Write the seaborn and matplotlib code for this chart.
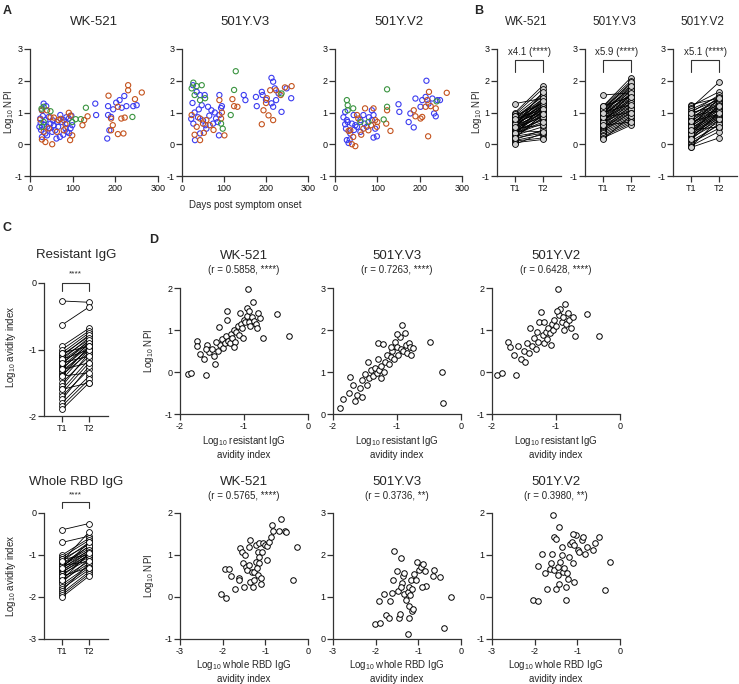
import numpy as np
import pandas as pd
import seaborn as sns
import matplotlib.pyplot as plt

sns.set_style('ticks')
plt.rcParams['font.family'] = ['Liberation Sans', 'DejaVu Sans']
plt.rcParams['mathtext.fontset'] = 'custom'
plt.rcParams['mathtext.rm'] = 'Liberation Sans'
plt.rcParams['axes.unicode_minus'] = False

# ---------------- data ----------------
cohort_colors = {'c1': '#3c3cf0', 'c2': '#c4531e', 'c3': '#3a9440'}

# panel A: (days post symptom onset, log10 NPI)
a_wk_c1 = [(22,0.55),(24,0.81),(25,0.67),(28,1.07),(28,0.23),(30,0.89),(32,1.28),(36,0.76),(36,0.34),
           (38,1.2),(40,0.55),(40,0.28),(44,0.86),(48,0.65),(52,0.39),(56,0.6),(59,0.44),(63,0.7),
           (70,0.23),(71,0.92),(75,0.7),(79,0.76),(83,0.5),(87,0.65),(87,0.39),(91,0.81),(95,0.5),
           (97,0.9),(99,0.6),(26,0.45),(33,0.62),(46,0.5),(54,0.75),(66,0.55),(85,0.85),(92,0.35),
           (155,0.92),(153,1.28),(181,0.18),(186,0.44),(183,0.92),(183,1.2),(190,0.86),(202,1.31),
           (210,1.39),(221,1.52),(226,1.2),(242,1.2),(250,1.23),(195,1.1),(215,1.15),(62,0.18),(78,0.3)]
a_wk_c2 = [(28,0.15),(36,0.07),(52,0.0),(32,0.39),(44,0.5),(56,0.84),(67,0.76),(40,1.07),(28,1.07),
           (63,0.39),(83,0.63),(79,0.44),(91,0.99),(95,0.9),(99,0.28),(94,0.13),(123,0.6),(127,0.76),
           (135,0.88),(230,1.86),(230,1.7),(262,1.63),(184,1.53),(206,1.18),(246,1.42),(222,0.84),
           (214,0.81),(190,0.81),(194,0.6),(190,0.44),(206,0.32),(219,0.34),(48,0.85),(72,0.8),(24,0.78)]
a_wk_c3 = [(48,1.04),(32,1.18),(107,0.79),(119,0.79),(131,1.15),(240,0.86),(99,0.7),(28,0.55),
           (32,0.7),(27,1.12)]

a_v3_c1 = [(26,1.86),(35,1.65),(43,1.55),(54,1.55),(47,1.23),(62,1.18),(70,1.07),(89,1.55),(93,1.14),
           (89,0.92),(27,0.65),(31,0.13),(43,0.34),(74,0.65),(58,0.49),(81,0.81),(88,0.28),(147,1.55),
           (151,1.39),(176,1.49),(190,1.65),(192,1.55),(178,1.2),(213,2.09),(217,1.97),(221,1.76),
           (224,1.39),(217,1.18),(249,1.76),(237,1.02),(213,1.29),(25,1.3),(30,1.0),(38,0.85),(50,0.75),
           (65,0.9),(78,1.0),(95,1.2),(22,0.8),(40,1.1),(56,0.6),(85,0.7),(200,1.4),(230,1.6),(260,1.45)]
a_v3_c2 = [(23,0.92),(43,0.81),(50,0.65),(58,0.76),(66,0.6),(43,0.13),(52,0.36),(89,1.39),(93,0.81),
           (101,0.28),(120,1.42),(124,1.2),(132,1.18),(202,1.45),(224,1.7),(210,1.7),(245,1.79),
           (261,1.83),(194,1.07),(206,0.91),(190,0.63),(217,0.76),(35,0.55),(75,0.45),(95,1.0),(30,0.3),
           (200,1.3),(235,1.55)]
a_v3_c3 = [(27,1.94),(35,1.83),(47,1.86),(23,1.76),(43,1.39),(93,0.65),(97,0.49),(128,2.3),(124,1.71),
           (116,0.92),(237,1.6),(30,1.55),(55,1.45)]

a_v2_c1 = [(24,1.02),(28,0.76),(60,0.76),(40,0.65),(48,0.6),(28,0.13),(32,0.04),(36,0.34),(60,0.39),
           (75,0.55),(87,0.76),(91,0.92),(87,1.07),(95,0.49),(91,0.21),(99,0.25),(67,0.92),(44,0.92),
           (24,0.63),(26,0.49),(52,0.55),(150,1.26),(152,1.02),(174,0.7),(186,0.53),(178,0.97),
           (190,1.44),(202,1.18),(206,1.39),(214,1.49),(216,2.0),(221,1.28),(230,1.44),(234,0.97),
           (242,1.39),(248,1.39),(238,0.88),(30,0.7),(45,0.45),(70,0.65),(80,0.85),(20,0.85),(35,0.15)]
a_v2_c2 = [(55,0.81),(71,1.13),(36,0.44),(43,0.23),(40,0.0),(48,-0.06),(67,0.49),(91,1.13),(95,0.76),
           (99,0.55),(100,0.7),(52,0.92),(79,0.44),(32,0.42),(123,1.07),(121,0.65),(131,0.42),(186,1.07),
           (190,0.88),(222,1.65),(218,1.39),(206,0.86),(202,0.81),(220,0.25),(226,1.2),(238,1.13),
           (264,1.62),(214,1.18),(62,0.3),(85,0.6)]
a_v2_c3 = [(28,1.39),(30,1.23),(30,1.07),(43,1.13),(79,0.7),(123,1.73),(123,1.18),(115,0.78),
           (240,1.35),(60,0.7)]

# panel B: paired log10 NPI at T1 / T2
b_wk_t1 = [1.28,1.0,0.95,0.9,0.85,0.82,0.8,0.78,0.75,0.73,0.7,0.68,0.66,0.64,0.62,0.6,0.58,0.56,0.55,
           0.53,0.5,0.48,0.46,0.45,0.43,0.4,0.38,0.35,0.33,0.3,0.28,0.25,0.22,0.2,0.15,0.12,0.1,0.05,
           0.0,0.3,0.6,0.42,0.9,0.7,0.5,0.65,0.35,0.8,0.55,0.2]
b_wk_t2 = [1.45,1.85,1.75,1.6,1.5,1.42,1.3,1.55,1.2,1.35,1.15,1.25,1.05,1.4,1.1,0.95,1.2,1.0,0.85,
           1.3,1.1,0.9,1.0,0.75,1.15,0.95,0.8,1.05,0.65,0.9,0.55,0.4,0.85,0.35,0.45,0.3,0.2,0.15,
           0.35,1.25,1.65,0.4,1.3,1.0,0.6,1.45,0.7,1.1,1.35,0.95]
b_v3_t1 = [1.55,1.2,1.18,1.15,1.12,1.1,1.08,1.05,1.02,1.0,0.98,0.95,0.92,0.9,0.88,0.85,0.82,0.8,0.78,
           0.75,0.72,0.7,0.68,0.65,0.62,0.6,0.58,0.55,0.52,0.5,0.48,0.45,0.42,0.4,0.35,0.3,0.25,0.2,
           0.15,1.1,0.95,0.7,1.2,0.85,0.6,1.0]
b_v3_t2 = [1.62,2.1,2.0,1.9,1.85,1.75,1.7,1.65,1.55,1.8,1.5,1.45,1.6,1.4,1.35,1.7,1.3,1.25,1.55,
           1.2,1.45,1.15,1.1,1.4,1.05,1.3,1.0,0.95,1.2,0.9,1.1,0.85,1.0,0.8,0.75,0.7,0.65,0.6,
           0.9,1.95,1.85,1.6,1.5,1.0,0.7,1.25]
b_v2_t1 = [1.25,1.2,1.15,1.1,1.05,1.0,0.95,0.9,0.85,0.8,0.78,0.75,0.7,0.68,0.65,0.62,0.6,0.55,0.52,
           0.5,0.48,0.45,0.42,0.4,0.38,0.35,0.3,0.28,0.25,0.2,0.15,0.1,0.05,0.0,-0.05,-0.1,-0.08,
           0.58,0.9,0.33,0.72,0.18,1.0,0.45]
b_v2_t2 = [1.45,1.65,1.95,1.5,1.4,1.55,1.35,1.45,1.3,1.25,1.5,1.2,1.4,1.15,1.1,1.3,1.05,1.2,1.0,
           0.95,1.15,0.9,1.1,0.85,1.0,0.8,0.95,0.75,0.9,0.7,0.85,0.6,0.5,0.65,0.4,0.2,0.8,
           1.45,1.05,1.25,0.95,1.0,1.2,0.55]
fold_labels = ['x4.1 (****)', 'x5.9 (****)', 'x5.1 (****)']

# panel C: paired log10 avidity index
c_res_t1 = [-0.27,-0.63,-0.95,-1.0,-1.05,-1.08,-1.1,-1.12,-1.15,-1.17,-1.2,-1.22,-1.25,-1.28,-1.3,
            -1.32,-1.35,-1.38,-1.4,-1.45,-1.5,-1.55,-1.6,-1.65,-1.7,-1.75,-1.8,-1.85,-1.9,-1.15,-1.05,
            -1.2,-1.3,-1.4,-1.6]
c_res_t2 = [-0.29,-0.36,-0.68,-0.72,-0.75,-0.8,-0.78,-0.85,-0.82,-0.88,-0.9,-0.86,-0.92,-0.95,-0.9,
            -1.0,-0.98,-1.05,-0.95,-1.0,-1.1,-1.05,-1.15,-1.2,-1.3,-1.25,-1.4,-1.45,-1.5,-1.0,-0.95,
            -1.1,-1.2,-1.35,-1.5]
c_rbd_t1 = [-0.4,-0.7,-1.0,-1.05,-1.1,-1.15,-1.2,-1.22,-1.25,-1.28,-1.3,-1.32,-1.35,-1.38,-1.4,-1.42,
            -1.45,-1.5,-1.55,-1.6,-1.65,-1.7,-1.75,-1.8,-1.85,-1.9,-1.95,-2.0,-1.1,-1.25,-1.5,-1.3,
            -1.6,-1.15]
c_rbd_t2 = [-0.25,-0.55,-0.6,-0.65,-0.75,-0.7,-0.8,-0.85,-0.9,-0.78,-0.95,-0.88,-1.0,-0.92,-1.05,-0.98,
            -1.1,-1.0,-1.15,-1.2,-1.1,-1.25,-1.3,-1.35,-1.2,-1.4,-1.45,-1.5,-1.0,-1.15,-1.3,-0.7,
            -0.95,-0.45]

# panel D: (log10 avidity index, log10 NPI)
d_res_wk = [(-1.88,-0.05),(-1.83,-0.02),(-1.59,-0.08),(-1.73,0.74),(-1.73,0.62),(-1.58,0.64),
            (-1.37,0.64),(-1.39,1.07),(-1.27,1.24),(-1.27,1.45),(-1.06,1.4),(-0.94,1.98),(-0.86,1.67),
            (-0.95,1.52),(-0.75,1.29),(-0.48,1.38),(-0.3,0.86),(-0.7,0.81),(-1.68,0.42),(-1.62,0.3),
            (-1.55,0.48),(-1.5,0.55),(-1.47,0.38),(-1.44,0.72),(-1.4,0.5),(-1.35,0.78),(-1.33,0.58),
            (-1.3,0.7),(-1.28,0.85),(-1.25,0.75),(-1.22,0.68),(-1.2,0.9),(-1.18,0.8),(-1.16,1.0),
            (-1.14,0.72),(-1.12,0.95),(-1.1,1.1),(-1.08,0.88),(-1.05,1.15),(-1.03,1.05),(-1.0,1.25),
            (-0.98,1.2),(-0.96,1.33),(-0.92,1.18),(-0.9,1.1),(-0.88,1.3),(-0.85,1.22),(-0.82,1.15),
            (-0.8,1.05),(-0.78,1.4),(-0.92,1.45),(-1.02,0.8),(-1.15,0.6),(-1.45,0.2),(-1.6,0.55)]
d_res_v3 = [(-1.89,0.14),(-1.84,0.36),(-1.73,0.88),(-1.75,0.5),(-1.68,0.7),(-1.62,0.45),(-1.58,0.62),
            (-1.55,0.8),(-1.5,0.95),(-1.47,0.68),(-1.44,0.85),(-1.4,1.05),(-1.38,0.9),(-1.35,1.1),
            (-1.32,0.98),(-1.3,1.69),(-1.28,1.05),(-1.25,1.15),(-1.22,1.67),(-1.2,1.0),(-1.18,1.25),
            (-1.15,1.4),(-1.12,1.2),(-1.1,1.35),(-1.08,1.5),(-1.05,1.3),(-1.03,1.71),(-1.0,1.6),
            (-0.98,1.4),(-0.95,1.83),(-0.94,1.55),(-0.92,2.12),(-0.9,1.5),(-0.87,1.93),(-0.86,1.65),
            (-0.84,1.45),(-0.82,1.7),(-0.8,1.6),(-0.75,1.57),(-0.78,1.4),(-0.48,1.71),(-0.3,1.0),
            (-0.28,0.26),(-1.65,0.3),(-1.45,1.25),(-1.25,0.85),(-1.0,1.9),(-1.1,1.6),(-1.55,0.4),
            (-1.3,1.3)]
d_res_v2 = [(-1.92,-0.07),(-1.84,-0.02),(-1.62,-0.07),(-1.75,0.72),(-1.72,0.6),(-1.66,0.4),(-1.6,0.62),
            (-1.55,0.3),(-1.5,0.5),(-1.46,0.7),(-1.42,0.45),(-1.4,1.05),(-1.37,0.62),(-1.34,0.8),
            (-1.31,0.55),(-1.28,0.72),(-1.26,1.2),(-1.24,1.42),(-1.21,0.88),(-1.19,0.7),(-1.16,0.95),
            (-1.14,0.78),(-1.12,1.05),(-1.1,0.92),(-1.07,1.15),(-1.05,1.0),(-1.03,1.25),(-1.0,1.1),
            (-0.97,1.98),(-0.95,1.35),(-0.93,1.5),(-0.91,1.2),(-0.89,1.3),(-0.86,1.62),(-0.84,1.15),
            (-0.82,1.4),(-0.8,1.25),(-0.77,1.05),(-0.74,1.3),(-0.7,0.85),(-0.52,1.38),(-0.33,0.86),
            (-0.98,1.45),(-1.08,0.65),(-1.3,0.95),(-1.48,0.25),(-0.88,1.0),(-1.18,1.2)]
d_rbd_wk = [(-2.05,0.08),(-1.93,-0.02),(-1.95,0.66),(-1.85,0.66),(-1.8,0.5),(-1.71,0.18),(-1.62,0.46),
            (-1.62,0.4),(-1.59,1.16),(-1.55,1.06),(-1.53,0.8),(-1.47,1.0),(-1.5,0.24),(-1.45,0.72),
            (-1.44,0.64),(-1.38,0.76),(-1.35,1.36),(-1.38,1.2),(-1.36,0.36),(-1.32,0.6),(-1.27,0.6),
            (-1.29,0.24),(-1.27,0.4),(-1.23,0.84),(-1.23,1.24),(-1.18,1.08),(-1.18,0.52),(-1.16,0.96),
            (-1.14,0.8),(-1.11,0.32),(-1.14,1.28),(-1.07,1.08),(-1.05,1.28),(-1.0,1.24),(-0.95,1.22),
            (-0.95,0.88),(-0.91,1.32),(-0.86,1.44),(-0.82,1.56),(-0.68,1.56),(-0.55,1.56),(-0.36,0.4),
            (-0.25,1.2),(-0.63,1.86),(-0.84,1.71),(-0.51,1.55),(-1.2,0.7),(-1.1,0.45)]
d_rbd_v3 = [(-2.02,0.35),(-1.9,0.37),(-1.93,0.9),(-1.81,1.07),(-1.76,0.56),(-1.68,0.51),(-1.66,0.9),
            (-1.61,1.1),(-1.59,1.4),(-1.57,2.09),(-1.5,1.63),(-1.48,1.14),(-1.45,0.51),(-1.43,0.59),
            (-1.41,1.94),(-1.39,1.33),(-1.36,1.49),(-1.34,1.57),(-1.34,1.06),(-1.3,0.94),(-1.25,1.11),
            (-1.23,1.25),(-1.23,0.49),(-1.25,0.13),(-1.21,0.78),(-1.19,1.04),(-1.18,1.41),(-1.16,1.19),
            (-1.15,0.67),(-1.12,0.71),(-1.09,1.55),(-1.06,1.41),(-1.02,1.84),(-0.99,1.65),(-0.94,1.71),
            (-0.9,1.78),(-0.85,1.61),(-0.81,1.27),(-0.92,1.25),(-0.63,1.65),(-0.65,1.51),(-0.49,1.47),
            (-0.24,1.0),(-0.39,0.27),(-1.4,1.25)]
d_rbd_v2 = [(-2.03,-0.06),(-1.92,-0.1),(-1.92,0.74),(-1.83,1.02),(-1.76,0.58),(-1.7,0.2),(-1.65,0.66),
            (-1.6,1.02),(-1.61,0.8),(-1.55,1.44),(-1.49,1.38),(-1.54,0.64),(-1.49,0.18),(-1.46,0.72),
            (-1.45,0.52),(-1.43,0.32),(-1.4,0.84),(-1.37,1.0),(-1.36,1.2),(-1.34,0.6),(-1.31,0.68),
            (-1.27,-0.08),(-1.27,0.24),(-1.25,0.56),(-1.22,0.42),(-1.19,0.96),(-1.18,1.26),(-1.13,1.32),
            (-1.11,0.8),(-1.08,0.36),(-1.08,1.24),(-1.04,1.48),(-0.99,1.12),(-0.95,1.08),(-0.9,1.36),
            (-0.86,1.44),(-0.81,1.02),(-0.77,1.2),(-0.59,1.28),(-0.5,1.44),(-0.63,1.12),(-0.36,0.16),
            (-0.23,0.84),(-1.57,1.95),(-1.43,1.67),(-1.09,1.5)]

variants = ['WK-521', '501Y.V3', '501Y.V2']
d_r_res = ['(r = 0.5858, ****)', '(r = 0.7263, ****)', '(r = 0.6428, ****)']
d_r_rbd = ['(r = 0.5765, ****)', '(r = 0.3736, **)', '(r = 0.3980, **)']

# ---------------- figure ----------------
W, H = 739, 684
fig = plt.figure(figsize=(W / 100, H / 100), dpi=100)
INK = '#333333'


def add_ax(x0, y0, x1, y1):
    # axes box given in pixels from the top-left corner
    return fig.add_axes([x0 / W, 1 - y1 / H, (x1 - x0) / W, (y1 - y0) / H])


def ftext(x, y, s, **kw):
    kw.setdefault('ha', 'center')
    kw.setdefault('va', 'center')
    fig.text(x / W, 1 - y / H, s, **kw)


def style(ax, xlim, ylim, xticks, yticks, xticklabels=None):
    ax.set_xlim(xlim)
    ax.set_ylim(ylim)
    ax.set_xticks(xticks)
    ax.set_yticks(yticks)
    if xticklabels is not None:
        ax.set_xticklabels(xticklabels)
    sns.despine(ax=ax)
    for sp in ['left', 'bottom']:
        ax.spines[sp].set_color(INK)
        ax.spines[sp].set_linewidth(0.9)
    ax.tick_params(length=4, width=0.9, color=INK, labelsize=6.5, pad=1.5, labelcolor='#111111')
    ax.set_xlabel('')
    ax.set_ylabel('')


def open_scatter(ax, pts, color, s=14, lw=0.8, fc='none'):
    df = pd.DataFrame(pts, columns=['x', 'y'])
    sns.scatterplot(data=df, x='x', y='y', ax=ax, marker='o', s=s, facecolor=fc,
                    edgecolor=color, linewidth=lw, legend=False, clip_on=False, zorder=3)


def paired(ax, t1, t2, mfc):
    df = pd.DataFrame({'id': list(range(len(t1))) * 2,
                       'time': [0] * len(t1) + [1] * len(t2),
                       'val': list(t1) + list(t2)})
    sns.lineplot(data=df, x='time', y='val', units='id', estimator=None, ax=ax, color='black',
                 linewidth=0.6, marker='o', markersize=4.2, markerfacecolor=mfc,
                 markeredgecolor='black', markeredgewidth=0.6, sort=False, legend=False)


ylab_npi = r'Log$_{\mathregular{10}}$ NPI'

# ---- panel A ----
a_sets = [(a_wk_c1, a_wk_c2, a_wk_c3), (a_v3_c1, a_v3_c2, a_v3_c3), (a_v2_c1, a_v2_c2, a_v2_c3)]
a_x = [(30, 158), (182, 308), (335, 462)]
for (x0, x1), sets, name in zip(a_x, a_sets, variants):
    ax = add_ax(x0, 49, x1, 176)
    for pts, key in zip(sets, ['c1', 'c2', 'c3']):
        open_scatter(ax, pts, cohort_colors[key])
    style(ax, (0, 300), (-1, 3), [0, 100, 200, 300], [-1, 0, 1, 2, 3])
    ftext((x0 + x1) / 2, 22, name, fontsize=9.5)
ftext(245, 205, 'Days post symptom onset', fontsize=7)
ftext(9, 112, ylab_npi, fontsize=7, rotation=90)
ftext(7, 11, 'A', fontsize=9, fontweight='bold')

# ---- panel B ----
b_sets = [(b_wk_t1, b_wk_t2), (b_v3_t1, b_v3_t2), (b_v2_t1, b_v2_t2)]
b_x = [(497, 561), (585, 649), (673, 737)]
for (x0, x1), (t1, t2), name, fl in zip(b_x, b_sets, variants, fold_labels):
    ax = add_ax(x0, 49, x1, 176)
    paired(ax, t1, t2, '#cfcfcf')
    style(ax, (-0.65, 1.65), (-1, 3), [0, 1], [-1, 0, 1, 2, 3], ['T1', 'T2'])
    ax.plot([0, 0, 1, 1], [2.28, 2.65, 2.65, 2.28], color=INK, lw=0.8)
    ax.text(0.5, 2.92, fl, ha='center', va='center', fontsize=7)
    ftext((x0 + x1) / 2 - 3, 22, name, fontsize=8.5)
ftext(477, 112, ylab_npi, fontsize=7, rotation=90)
ftext(479, 11, 'B', fontsize=9, fontweight='bold')

# ---- panel C ----
ax = add_ax(44, 283, 108, 416)
paired(ax, c_res_t1, c_res_t2, 'white')
style(ax, (-0.67, 1.7), (-2, 0), [0, 1], [-2, -1, 0], ['T1', 'T2'])
ax.plot([0, 0, 1, 1], [-0.12, 0.0, 0.0, -0.12], color=INK, lw=0.8, clip_on=False)
ax.text(0.5, 0.14, '****', ha='center', va='center', fontsize=6)
ftext(76, 255, 'Resistant IgG', fontsize=9.5)
ftext(11, 347, r'Log$_{\mathregular{10}}$ avidity index', fontsize=7, rotation=90)

ax = add_ax(44, 513, 108, 639)
paired(ax, c_rbd_t1, c_rbd_t2, 'white')
style(ax, (-0.67, 1.7), (-3, 0), [0, 1], [-3, -2, -1, 0], ['T1', 'T2'])
ax.plot([0, 0, 1, 1], [0.12, 0.26, 0.26, 0.12], color=INK, lw=0.8, clip_on=False)
ax.text(0.5, 0.43, '****', ha='center', va='center', fontsize=6)
ftext(76, 482, 'Whole RBD IgG', fontsize=9.5)
ftext(11, 576, r'Log$_{\mathregular{10}}$ avidity index', fontsize=7, rotation=90)
ftext(7, 228, 'C', fontsize=9, fontweight='bold')

# ---- panel D ----
d_x = [(180, 308), (333, 461), (492, 620)]
d_top = [d_res_wk, d_res_v3, d_res_v2]
d_bot = [d_rbd_wk, d_rbd_v3, d_rbd_v2]
d_ylims = [(-1, 2), (0, 3), (-1, 2)]
for i, ((x0, x1), name) in enumerate(zip(d_x, variants)):
    lo, hi = d_ylims[i]
    cx = (x0 + x1) / 2
    ax = add_ax(x0, 288, x1, 414)
    open_scatter(ax, d_top[i], 'black', s=16, lw=0.7, fc='white')
    style(ax, (-2, 0), (lo, hi), [-2, -1, 0], list(range(lo, hi + 1)))
    ftext(cx, 256, name, fontsize=9.5)
    ftext(cx, 270, d_r_res[i], fontsize=7)
    ftext(cx, 447, r'Log$_{\mathregular{10}}$ resistant IgG' + '\navidity index', fontsize=7,
          linespacing=1.2)

    ax = add_ax(x0, 513, x1, 639)
    open_scatter(ax, d_bot[i], 'black', s=16, lw=0.7, fc='white')
    style(ax, (-3, 0), (lo, hi), [-3, -2, -1, 0], list(range(lo, hi + 1)))
    ftext(cx, 482, name, fontsize=9.5)
    ftext(cx, 496, d_r_rbd[i], fontsize=7)
    ftext(cx, 671, r'Log$_{\mathregular{10}}$ whole RBD IgG' + '\navidity index', fontsize=7,
          linespacing=1.2)
ftext(149, 351, ylab_npi, fontsize=7, rotation=90)
ftext(149, 576, ylab_npi, fontsize=7, rotation=90)
ftext(154, 240, 'D', fontsize=9, fontweight='bold')

fig.savefig('out.png', dpi=100)
